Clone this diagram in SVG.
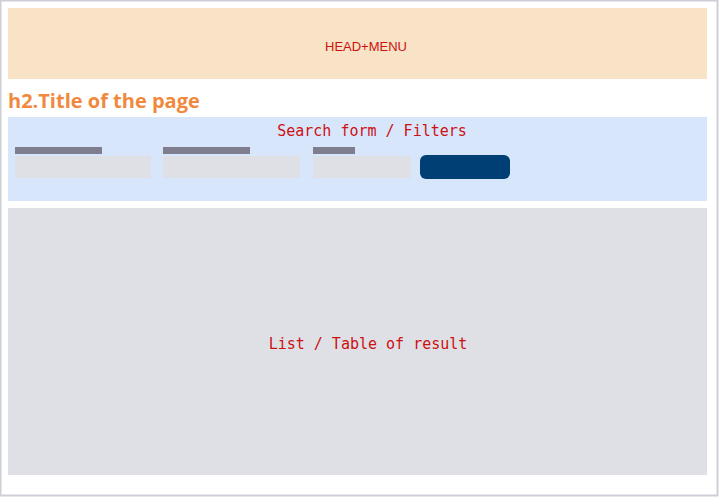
<svg xmlns="http://www.w3.org/2000/svg" width="719" height="497" viewBox="0 0 719 497">
<style>
.mono{font-family:"DejaVu Sans Mono","Liberation Mono",monospace;font-size:15px;fill:#cc1111;text-anchor:middle}
.lbl{fill:#7f7e8f}
.inp{fill:#dfe0e5}
</style>
<rect x="0.5" y="0.5" width="717" height="495" fill="#ffffff" stroke="#cfcfd8" stroke-width="2"/>
<g id="head">
<rect x="8" y="8" width="699" height="71" fill="#f9e3c6"/>
<text x="366" y="51" font-family="Liberation Sans, Arial, sans-serif" font-size="13" fill="#cc1111" text-anchor="middle">HEAD+MENU</text>
</g>
<g id="title">
<text x="8" y="108" font-family="Open Sans, Noto Sans, sans-serif" font-weight="bold" font-size="20" fill="#f0893e">h2.Title of the page</text>
</g>
<g id="search">
<rect x="8" y="117" width="699" height="84" fill="#d8e6fc"/>
<text class="mono" x="372" y="136">Search form / Filters</text>
<rect class="lbl" x="15" y="147" width="87" height="7"/>
<rect class="inp" x="15" y="156" width="136" height="22"/>
<rect class="lbl" x="163" y="147" width="87" height="7"/>
<rect class="inp" x="163" y="156" width="137" height="22"/>
<rect class="lbl" x="313" y="147" width="42" height="7"/>
<rect class="inp" x="313" y="156" width="98" height="22"/>
<rect x="420" y="155" width="90" height="24" rx="6" fill="#003f73"/>
</g>
<g id="results">
<rect x="8" y="208" width="699" height="267" fill="#dfe0e5"/>
<text class="mono" x="368" y="349">List / Table of result</text>
</g>
<g id="connectors"/>
</svg>
